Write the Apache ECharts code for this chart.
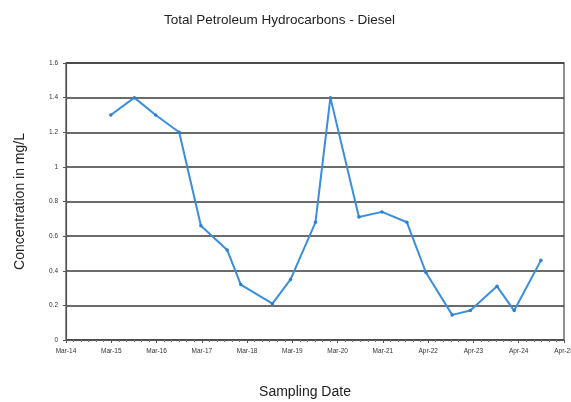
<!DOCTYPE html>
<html>
<head>
<meta charset="utf-8">
<script src="https://cdn.jsdelivr.net/npm/echarts@6/dist/echarts.min.js"></script>
<style>
html,body{margin:0;padding:0;background:#fff;}
#chart{width:571px;height:402px;}
</style>
</head>
<body>
<div id="chart"></div>
<script>
// Tick labels on the date axis (one per major unit)
const tickLabels = ['Mar-14','Mar-15','Mar-16','Mar-17','Mar-18','Mar-19','Mar-20','Mar-21','Apr-22','Apr-23','Apr-24','Apr-25'];
// Sampling positions, in major-tick units from Mar-14
const samplePos = [0.99,1.51,1.98,2.50,2.98,3.56,3.86,4.56,4.96,5.51,5.84,6.47,6.98,7.53,7.95,8.53,8.93,9.52,9.90,10.49];
// Concentration (mg/L)
const concentration = [1.30,1.40,1.30,1.20,0.66,0.52,0.32,0.21,0.35,0.68,1.40,0.71,0.74,0.68,0.39,0.145,0.17,0.31,0.17,0.46];

const data = samplePos.map((x,i)=>[x, concentration[i]]);
const chart = echarts.init(document.getElementById('chart'), null, {renderer:'canvas'});
chart.setOption({
  animation:false,
  backgroundColor:'#fff',
  title:{
    text:'Total Petroleum Hydrocarbons - Diesel',
    left:159, top:8,
    textStyle:{fontFamily:'Liberation Sans, Arial', fontSize:13.5, fontWeight:'normal', color:'#222'}
  },
  grid:{left:66, right:7, top:63, bottom:62, outerBoundsMode:'none', containLabel:false,
        show:true, borderColor:'#555', borderWidth:1.3, backgroundColor:'transparent'},
  xAxis:{
    type:'value', min:0, max:tickLabels.length-1, interval:1,
    name:'Sampling Date', nameLocation:'middle', nameGap:45,
    nameTextStyle:{fontFamily:'Liberation Sans, Arial', fontSize:14, color:'#222', padding:[0,20,0,0]},
    axisLine:{show:true, onZero:false, lineStyle:{color:'#555', width:1.2}},
    axisTick:{show:true, inside:false, length:3, lineStyle:{color:'#555'}},
    minorTick:{show:true, splitNumber:6, length:2, lineStyle:{color:'#777'}},
    splitLine:{show:false},
    axisLabel:{fontFamily:'Liberation Sans, Arial', fontSize:6.5, color:'#333', margin:8,
      formatter:(v)=>tickLabels[Math.round(v)] || ''}
  },
  yAxis:{
    type:'value', min:0, max:1.6, interval:0.2,
    name:'Concentration in mg/L', nameLocation:'middle', nameGap:39, nameRotate:90,
    nameTextStyle:{fontFamily:'Liberation Sans, Arial', fontSize:14, color:'#222'},
    axisLine:{show:true, lineStyle:{color:'#555', width:1.2}},
    axisTick:{show:true, inside:false, length:3, lineStyle:{color:'#555'}},
    splitLine:{show:true, lineStyle:{color:'#3a3a3a', width:1.5}},
    axisLabel:{fontFamily:'Liberation Sans, Arial', fontSize:6.5, color:'#333', margin:8,
      formatter:(v)=>String(Math.round(v*10)/10)}
  },
  series:[{
    type:'line', data:data,
    lineStyle:{color:'#3a8edb', width:2},
    itemStyle:{color:'#2f7fcf'},
    symbol:'circle', symbolSize:3.5, showSymbol:true
  }]
});
</script>
</body>
</html>
